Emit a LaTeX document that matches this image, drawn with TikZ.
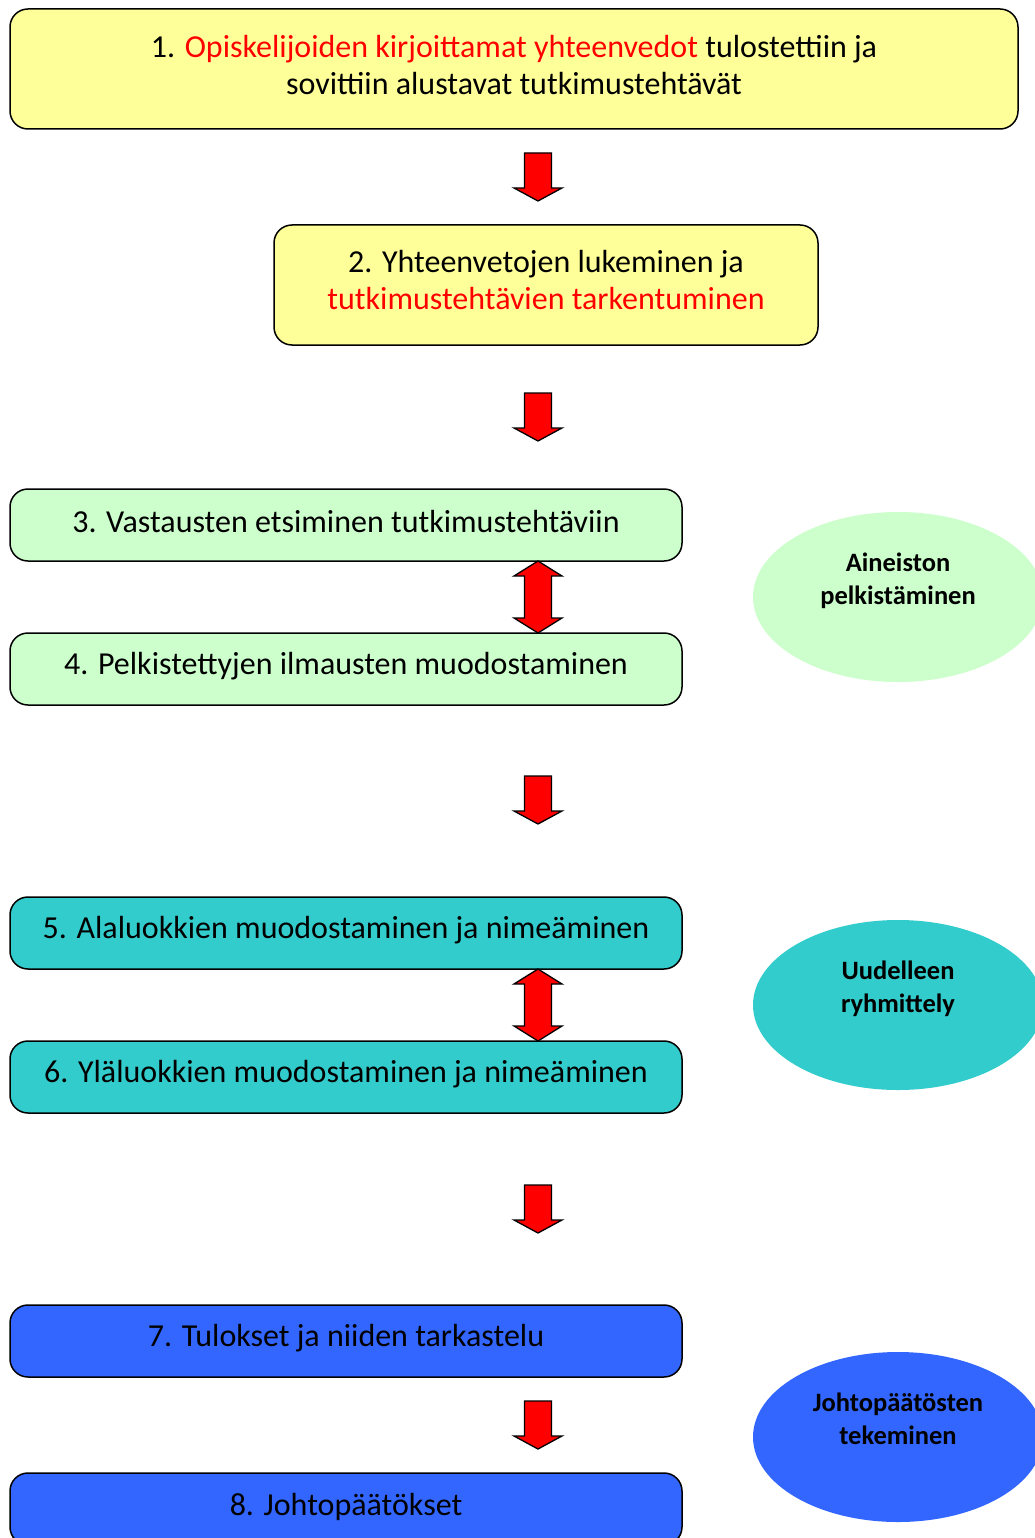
\documentclass[tikz,border=0pt]{standalone}
\usepackage{fontspec}
\setmainfont{Carlito}
\usetikzlibrary{shapes.geometric}
\definecolor{cyellow}{HTML}{FFFF99}
\definecolor{cgreen}{HTML}{CCFFCC}
\definecolor{cteal}{HTML}{33CCCC}
\definecolor{cblue}{HTML}{3366FF}
\definecolor{cred}{HTML}{FF0000}
\tikzset{
  stepbox/.style={draw=black, line width=1.5pt, rounded corners=18pt, inner sep=0pt},
  steptext/.style={align=center, font=\fontsize{32}{37}\selectfont, inner sep=0pt},
  wide/.style={minimum width=672pt, minimum height=72pt},
  phase/.style={ellipse, draw=none, minimum width=290pt, minimum height=170pt},
  phasetext/.style={align=center, font=\fontsize{26.5}{33}\selectfont\bfseries},
  blockarrow/.style={fill=cred, draw=black, line width=1.3pt, line join=miter},
  downarr/.pic={\path[blockarrow] (-13.5,0) -- (13.5,0) -- (13.5,35) -- (24,35) -- (0,48) -- (-24,35) -- (-13.5,35) -- cycle;},
  duoarr/.pic={\path[blockarrow] (0,0) -- (24,15) -- (13.5,15) -- (13.5,57) -- (24,57) -- (0,72) -- (-24,57) -- (-13.5,57) -- (-13.5,15) -- (-24,15) -- cycle;}
}
\begin{document}
\begin{tikzpicture}[x=1pt,y=-1pt]
\useasboundingbox (0,0) rectangle (1035,1538);
\fill[white] (0,0) rectangle (1035,1538);

\node[stepbox, fill=cyellow, minimum width=1008pt, minimum height=120pt] (s1) at (514,69) {};
\node[steptext] (s1t) at ([yshift=4pt]s1.center)
  {1. {\color{cred}Opiskelijoiden kirjoittamat yhteenvedot} tulostettiin ja\\sovittiin alustavat tutkimustehtävät};
\node[stepbox, fill=cyellow, minimum width=544pt, minimum height=120pt] (s2) at (546,285) {};
\node[steptext] (s2t) at ([yshift=4.5pt]s2.center)
  {2. Yhteenvetojen lukeminen ja\\{\color{cred}tutkimustehtävien tarkentuminen}};
\node[stepbox, wide, fill=cgreen] (s3) at (346,525) {};
\node[steptext] (s3t) at ([yshift=3pt]s3.center) {3. Vastausten etsiminen tutkimustehtäviin};
\node[stepbox, wide, fill=cgreen] (s4) at (346,669) {};
\node[steptext] (s4t) at ([yshift=3pt]s4.center) {4. Pelkistettyjen ilmausten muodostaminen};
\node[stepbox, wide, fill=cteal] (s5) at (346,933) {};
\node[steptext] (s5t) at ([yshift=3pt]s5.center) {5. Alaluokkien muodostaminen ja nimeäminen};
\node[stepbox, wide, fill=cteal] (s6) at (346,1077) {};
\node[steptext] (s6t) at ([yshift=3pt]s6.center) {6. Yläluokkien muodostaminen ja nimeäminen};
\node[stepbox, wide, fill=cblue] (s7) at (346,1341) {};
\node[steptext] (s7t) at ([yshift=3pt]s7.center) {7. Tulokset ja niiden tarkastelu};
\node[stepbox, wide, fill=cblue] (s8) at (346,1509) {};
\node[steptext] (s8t) at ([yshift=2pt]s8.center) {8. Johtopäätökset};

\node[phase, fill=cgreen] (p1) at (898,597) {};
\node[phasetext] (p1t) at ([yshift=16pt]p1.center) {Aineiston\\pelkistäminen};
\node[phase, fill=cteal] (p2) at (898,1005) {};
\node[phasetext] (p2t) at ([yshift=16pt]p2.center) {Uudelleen\\ryhmittely};
\node[phase, fill=cblue] (p3) at (898,1437) {};
\node[phasetext] (p3t) at ([yshift=18pt]p3.center) {Johtopäätösten\\tekeminen};

\pic at (538,153) {downarr};
\pic at (538,393) {downarr};
\pic at (538,776) {downarr};
\pic at (538,1185) {downarr};
\pic at (538,1401) {downarr};
\pic at (538,561) {duoarr};
\pic at (538,969) {duoarr};
\end{tikzpicture}
\end{document}
